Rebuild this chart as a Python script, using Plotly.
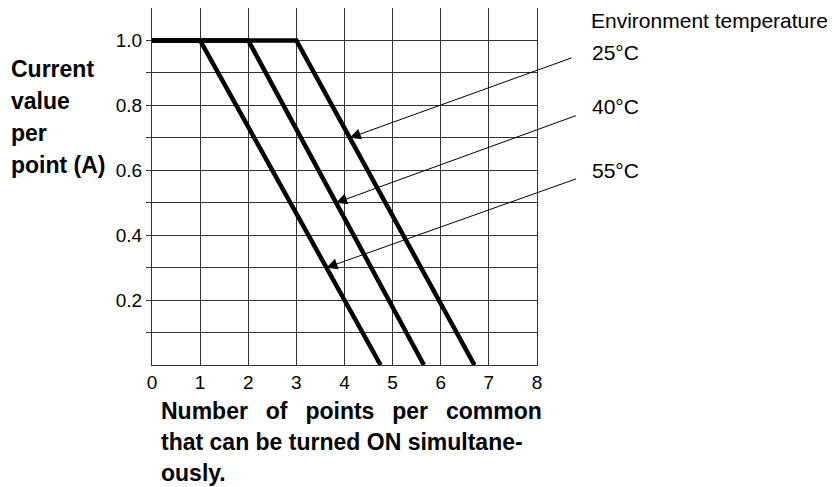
import numpy as np
import plotly.graph_objects as go

# derating curves: current per point (A) vs points ON per common
temps = ["25°C", "40°C", "55°C"]
x_25 = [0, 3, 6.7]
y_25 = [1.0, 1.0, 0.0]
x_40 = [0, 2, 5.65]
y_40 = [1.0, 1.0, 0.0]
x_55 = [0, 1, 4.75]
y_55 = [1.0, 1.0, 0.0]

x_ticks = [0, 1, 2, 3, 4, 5, 6, 7, 8]
y_ticks = [0.1, 0.2, 0.3, 0.4, 0.5, 0.6, 0.7, 0.8, 0.9, 1.0]
y_ticktext = ["", "0.2", "", "0.4", "", "0.6", "", "0.8", "", "1.0"]

# where each leader arrow touches its curve (current value)
arrow_y = [0.7, 0.5, 0.3]

FONT = "Liberation Sans, Arial, Helvetica, sans-serif"

fig = go.Figure()
curves = [(x_25, y_25), (x_40, y_40), (x_55, y_55)]
for name, (xs, ys) in zip(temps, curves):
    fig.add_trace(go.Scatter(x=xs, y=ys, mode="lines", name=name,
                             line=dict(color="black", width=4.5),
                             showlegend=False, cliponaxis=False))

# leader arrows from the labels to the curves
tails = [(8.75, 0.948), (8.84, 0.77), (8.84, 0.575)]
for (xs, ys), ay_pt, (tx, ty) in zip(curves, arrow_y, tails):
    # curve falls from left to right, so interp on reversed arrays
    ax_pt = float(np.interp(ay_pt, ys[::-1], xs[::-1]))
    fig.add_annotation(x=ax_pt, y=ay_pt, ax=tx, ay=ty, xref="x", yref="y",
                       axref="x", ayref="y", text="", showarrow=True,
                       arrowhead=2, arrowsize=2.2, arrowwidth=1,
                       arrowcolor="black", standoff=0)

# right-hand labels (paper coords, data coords outside the range get hidden)
fig.add_annotation(x=1.137, y=0.966, xref="paper", yref="paper",
                   text="Environment temperature", showarrow=False,
                   xanchor="left", yanchor="middle", borderpad=0,
                   font=dict(size=21, color="black", family=FONT))
for name, ly in zip(temps, [0.874, 0.725, 0.546]):
    fig.add_annotation(x=1.137, y=ly, xref="paper", yref="paper", text=name,
                       showarrow=False, xanchor="left", yanchor="middle",
                       font=dict(size=21, color="black", family=FONT))

# axis titles, written line by line
y_title = ["Current", "value", "per", "point (A)"]
for i, line in enumerate(y_title):
    fig.add_annotation(x=-0.372, y=0.83 - i * 0.09, xref="paper", yref="paper",
                       text="<b>" + line + "</b>", showarrow=False,
                       xanchor="left", yanchor="middle",
                       font=dict(size=23, color="black", family=FONT))

gap = "\u2002\u00a0"
x_title = [gap.join(["Number", "of", "points", "per", "common"]),
           "that can be turned ON simultane-",
           "ously."]
for i, line in enumerate(x_title):
    fig.add_annotation(x=0.021, y=-0.128 - i * 0.087, xref="paper", yref="paper",
                       text="<b>" + line + "</b>", showarrow=False,
                       xanchor="left", yanchor="middle", borderpad=0,
                       font=dict(size=23, color="black", family=FONT))

fig.update_xaxes(range=[0, 8], tickvals=x_ticks, ticks="", showgrid=True,
                 gridcolor="#333", gridwidth=1, showline=True, linecolor="#333",
                 linewidth=1, mirror=True, zeroline=False,
                 tickfont=dict(size=19, color="black", family=FONT))
fig.update_yaxes(range=[0, 1.1], tickvals=y_ticks, ticktext=y_ticktext,
                 ticks="outside", ticklen=5, tickcolor="#333", showgrid=True,
                 gridcolor="#333", gridwidth=1, showline=True, linecolor="#333",
                 linewidth=1, mirror=True, zeroline=False,
                 tickfont=dict(size=19, color="black", family=FONT))

# page body adds an 8px offset, so the figure is sized to fit inside the window
fig.update_layout(width=827, height=479, plot_bgcolor="white", paper_bgcolor="white",
                  margin=dict(l=144, r=298, t=0, b=122),
                  font=dict(family=FONT, color="black"))

fig.write_html("out.html")
